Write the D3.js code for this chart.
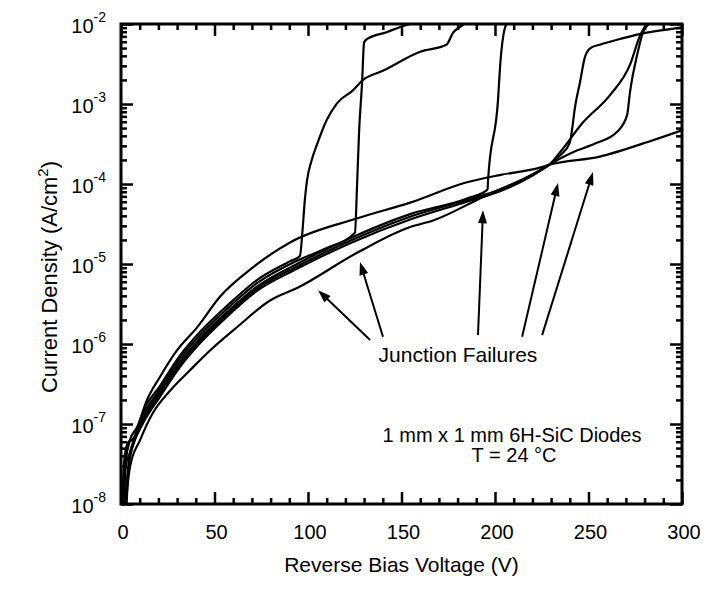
<!DOCTYPE html>
<html>
<head>
<meta charset="utf-8">
<script src="https://cdn.jsdelivr.net/npm/d3@7"></script>
<style>
  body { margin: 0; background: #fff; }
  text { font-family: "Liberation Sans", Arial, sans-serif; fill: #000; }
</style>
</head>
<body>
<div id="chart"></div>
<script>
// I-V curves, [reverse bias (V), current density (A/cm^2)]
const curveUpper = [[0.5, 1e-8], [2.5, 3.5e-8], [4.8, 6.3e-8], [8.6, 9.1e-8], [13.9, 2.0e-7], [20.9, 3.9e-7],
  [29.9, 8.3e-7], [40.6, 1.6e-6], [52.9, 3.9e-6], [70.6, 9.1e-6], [90.4, 1.86e-5], [126, 3.7e-5], [155, 5.9e-5],
  [185, 1.05e-4], [203, 1.3e-4], [224, 1.6e-4], [229, 1.74e-4], [256, 2.2e-4], [284, 3.5e-4], [300, 4.7e-4]];

const curveSoft = [[1.5, 1e-8], [3, 4.5e-8], [5, 6.2e-8], [7, 6.5e-8], [11.8, 1.41e-7], [20.9, 3.0e-7], [31.6, 7.2e-7],
  [42.2, 1.41e-6], [56.7, 3.0e-6], [72.7, 6.3e-6], [90, 1.07e-5], [95.7, 1.26e-5], [97, 2.5e-5], [98.3, 6.3e-5],
  [99.5, 1.12e-4], [102, 2.0e-4], [105, 3.2e-4], [110, 6.3e-4], [115.5, 1.02e-3], [124, 1.48e-3], [129.4, 2.0e-3],
  [140, 2.6e-3], [160, 4.5e-3], [174, 5.5e-3], [177.6, 7.8e-3], [181, 9.1e-3], [184, 1.02e-2]];

const curve125 = [[0.5, 1e-8], [2, 4.0e-8], [4, 6.0e-8], [6, 6.3e-8], [11.8, 1.29e-7], [20.9, 2.75e-7], [31.6, 6.6e-7],
  [42.2, 1.29e-6], [56.7, 2.75e-6], [72.7, 5.75e-6], [94.1, 1.1e-5], [110, 1.58e-5], [125.1, 2.45e-5], [126.2, 9.1e-5],
  [127.3, 4.4e-4], [128.9, 1.82e-3], [130, 5.9e-3], [131.6, 6.5e-3], [142, 7.9e-3], [149, 9.1e-3], [154.6, 1e-2]];

const curve196 = [[3, 1e-8], [4.5, 4e-8], [6, 5.5e-8], [11.8, 1.17e-7], [20.9, 2.5e-7], [31.6, 6.0e-7], [42.2, 1.17e-6],
  [56.7, 2.5e-6], [72.7, 5.2e-6], [94.1, 1.0e-5], [122.5, 2.1e-5], [154.6, 4.2e-5], [185, 6.6e-5], [196, 8.5e-5],
  [196.3, 1.12e-4], [201.6, 1.12e-3], [202.7, 2.9e-3], [205.4, 9.1e-3], [206.4, 1e-2]];

const curve240 = [[1, 1e-8], [2.5, 3e-8], [5, 4.5e-8], [11.8, 1.1e-7], [20.9, 2.35e-7], [31.6, 5.6e-7], [42.2, 1.1e-6],
  [56.7, 2.35e-6], [72.7, 4.9e-6], [94.1, 9.3e-6], [122.5, 1.95e-5], [154.6, 3.9e-5], [185, 6.3e-5], [202.7, 8.5e-5],
  [224, 1.48e-4], [229, 1.74e-4], [235, 2.3e-4], [240, 3.3e-4], [243, 9.8e-4], [245.5, 1.9e-3], [248, 3.8e-3],
  [251, 5.0e-3], [256, 5.5e-3], [268, 6.6e-3], [281, 7.8e-3], [297.5, 8.9e-3], [300, 9.1e-3]];

const curve270 = [[2, 1e-8], [4, 3e-8], [6, 5e-8], [11.8, 1.02e-7], [20.9, 2.2e-7], [31.6, 5.2e-7], [42.2, 1.02e-6],
  [56.7, 2.2e-6], [72.7, 4.6e-6], [94.1, 8.7e-6], [122.5, 1.82e-5], [154.6, 3.6e-5], [185, 6.0e-5], [202.7, 8.1e-5],
  [224, 1.45e-4], [229, 1.74e-4], [241.7, 2.5e-4], [253.5, 3.2e-4], [265.3, 4.5e-4], [270.6, 7.2e-4], [272.2, 1.41e-3],
  [276, 4.1e-3], [279.2, 7.9e-3], [282.9, 1.02e-2]];

const curveLower = [[2.5, 1e-8], [4.8, 2.9e-8], [10.2, 6.3e-8], [17.1, 1.38e-7], [26.2, 2.6e-7], [36.9, 4.7e-7],
  [47.6, 8.3e-7], [62, 1.62e-6], [79.7, 3.5e-6], [94.1, 5.0e-6], [126.2, 1.38e-5], [154.6, 2.9e-5], [166.9, 3.5e-5],
  [193.6, 6.9e-5], [224, 1.48e-4], [229, 1.74e-4], [234.8, 2.5e-4], [247.1, 5.9e-4], [261.5, 1.29e-3],
  [272.2, 3.1e-3], [277.6, 7.2e-3], [281.3, 1.02e-2]];

const curves = [curveUpper, curveSoft, curve125, curve196, curve240, curve270, curveLower];

const xTicks = [0, 50, 100, 150, 200, 250, 300];
const xMinorTicks = [10, 20, 30, 40, 60, 70, 80, 90, 110, 120, 130, 140, 160, 170, 180, 190,
  210, 220, 230, 240, 260, 270, 280, 290];
const yExponents = [-8, -7, -6, -5, -4, -3, -2];

// "Junction Failures" arrows: tail -> tip, in data units
const arrows = [
  { tail: [133.2, 1.12e-6], tip: [105.4, 4.7e-6] },
  { tail: [140.1, 1.23e-6], tip: [127.8, 1.06e-5] },
  { tail: [190.9, 1.29e-6], tip: [193.6, 4.7e-5] },
  { tail: [214.5, 1.23e-6], tip: [233.7, 1.03e-4] },
  { tail: [225.2, 1.29e-6], tip: [252.4, 1.41e-4] }
];

const width = 708, height = 594;
const mLeft = 121, mRight = 682, mTop = 24, mBottom = 504;

const svg = d3.select("#chart").append("svg")
  .attr("width", width)
  .attr("height", height);

const x = d3.scaleLinear().domain([0, 300]).range([mLeft, mRight]);
const y = d3.scaleLog().domain([1e-8, 1e-2]).range([mBottom, mTop]);

const yMajor = yExponents.map(e => Math.pow(10, e));
const yMinor = [];
yExponents.slice(0, -1).forEach(e => d3.range(2, 10).forEach(k => yMinor.push(k * Math.pow(10, e))));

svg.append("clipPath").attr("id", "plot")
  .append("rect")
  .attr("x", mLeft).attr("y", mTop)
  .attr("width", mRight - mLeft).attr("height", mBottom - mTop);

// curves
const line = d3.line().curve(d3.curveMonotoneX).x(d => x(d[0])).y(d => y(d[1]));
svg.append("g").attr("clip-path", "url(#plot)")
  .selectAll("path")
  .data(curves)
  .enter()
  .append("path")
  .attr("d", line)
  .attr("fill", "none")
  .attr("stroke", "#000")
  .attr("stroke-width", 2.2)
  .attr("stroke-linejoin", "round");

// inward ticks on all four sides
function ticks(axis, tx, ty) {
  const g = svg.append("g")
    .attr("transform", `translate(${tx},${ty})`)
    .call(axis);
  g.select(".domain").remove();
  g.selectAll("text").remove();
  g.selectAll("line").attr("stroke", "#000").attr("stroke-width", 2.5);
}
ticks(d3.axisBottom(x).tickValues(xTicks).tickSize(-12), 0, mBottom);
ticks(d3.axisBottom(x).tickValues(xMinorTicks).tickSize(-6), 0, mBottom);
ticks(d3.axisTop(x).tickValues(xTicks).tickSize(-12), 0, mTop);
ticks(d3.axisTop(x).tickValues(xMinorTicks).tickSize(-6), 0, mTop);
ticks(d3.axisLeft(y).tickValues(yMajor).tickSize(-12), mLeft, 0);
ticks(d3.axisLeft(y).tickValues(yMinor).tickSize(-6), mLeft, 0);
ticks(d3.axisRight(y).tickValues(yMajor).tickSize(-12), mRight, 0);
ticks(d3.axisRight(y).tickValues(yMinor).tickSize(-6), mRight, 0);

// frame
svg.append("rect")
  .attr("x", mLeft).attr("y", mTop)
  .attr("width", mRight - mLeft).attr("height", mBottom - mTop)
  .attr("fill", "none")
  .attr("stroke", "#000")
  .attr("stroke-width", 3);

// tick labels
svg.selectAll(".xlab")
  .data(xTicks)
  .enter()
  .append("text")
  .attr("x", d => x(d) + 2)
  .attr("y", 539)
  .attr("text-anchor", "middle")
  .style("font-size", "20px")
  .text(d => d);

const ylab = svg.selectAll(".ylab")
  .data(yExponents)
  .enter()
  .append("text")
  .attr("x", 106)
  .attr("y", d => y(Math.pow(10, d)) + 9)
  .attr("text-anchor", "end")
  .style("font-size", "20px");
ylab.append("tspan").text("10");
ylab.append("tspan").attr("dy", -11).style("font-size", "14px").text(d => d);

// axis titles
svg.append("text")
  .attr("x", (mLeft + mRight) / 2)
  .attr("y", 572)
  .attr("text-anchor", "middle")
  .style("font-size", "21px")
  .text("Reverse Bias Voltage (V)");

const yt = svg.append("text")
  .attr("transform", `translate(57,${(mTop + mBottom) / 2 + 13}) rotate(-90)`)
  .attr("text-anchor", "middle")
  .style("font-size", "22px");
yt.append("tspan").text("Current Density (A/cm");
yt.append("tspan").attr("dy", -9).style("font-size", "15px").text("2");
yt.append("tspan").attr("dy", 9).text(")");

// annotations
const arrowG = svg.append("g");
arrows.forEach(a => {
  const x0 = x(a.tail[0]), y0 = y(a.tail[1]);
  const x1 = x(a.tip[0]), y1 = y(a.tip[1]);
  const ang = Math.atan2(y1 - y0, x1 - x0);
  const L = 13, W = 4.5;
  arrowG.append("line")
    .attr("x1", x0).attr("y1", y0)
    .attr("x2", x1 - Math.cos(ang) * L * 0.7).attr("y2", y1 - Math.sin(ang) * L * 0.7)
    .attr("stroke", "#000").attr("stroke-width", 2);
  const bx = x1 - Math.cos(ang) * L, by = y1 - Math.sin(ang) * L;
  const pts = [[x1, y1],
    [bx + Math.sin(ang) * W, by - Math.cos(ang) * W],
    [bx - Math.sin(ang) * W, by + Math.cos(ang) * W]];
  arrowG.append("polygon").attr("points", pts.map(p => p.join(",")).join(" ")).attr("fill", "#000");
});

svg.append("text")
  .attr("x", x(180.2)).attr("y", y(5.96e-7))
  .attr("text-anchor", "middle")
  .style("font-size", "21px")
  .text("Junction Failures");

svg.append("text")
  .attr("x", x(209.1)).attr("y", y(5.96e-8))
  .attr("text-anchor", "middle")
  .style("font-size", "20px")
  .text("1 mm x 1 mm 6H-SiC Diodes");

svg.append("text")
  .attr("x", x(210.2)).attr("y", y(3.55e-8) + 2)
  .attr("text-anchor", "middle")
  .style("font-size", "20px")
  .text("T = 24 °C");
</script>
</body>
</html>
